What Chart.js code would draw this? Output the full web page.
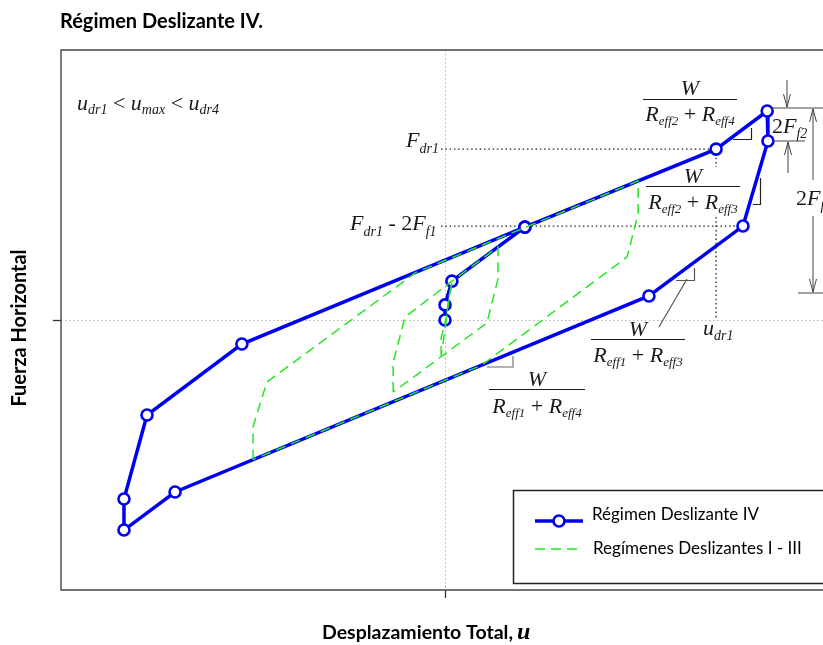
<!DOCTYPE html>
<html><head><meta charset="utf-8">
<script src="https://cdn.jsdelivr.net/npm/chart.js@4.4.1/dist/chart.umd.min.js"></script>
<style>
html,body{margin:0;padding:0;background:#fff;overflow:hidden;width:823px;height:645px}
#wrap{position:absolute;left:0;top:0;width:840px;height:645px}
</style></head>
<body><div id="wrap"><canvas id="c" width="840" height="645"></canvas></div>
<script>
// ---- text ----
const titleText = 'Régimen Deslizante IV.';
const yAxisLabel = 'Fuerza Horizontal';
const xAxisLabel = 'Desplazamiento Total,';
const xAxisSymbol = 'u';
const legendLabels = ['Régimen Deslizante IV', 'Regímenes Deslizantes I - III'];

// ---- data (normalised displacement u, normalised force F) ----
const regimeIV_u = [0.000, 0.000, 0.018, 0.208, 0.706, 0.839, 0.841, 0.776, 0.531, -0.703, -0.836, -0.836, -0.776, -0.529, 0.208];
const regimeIV_F = [0.000, 0.056, 0.144, 0.344, 0.633, 0.774, 0.663, 0.348, 0.089, -0.637, -0.778, -0.663, -0.352, -0.089, 0.344];

const regimeI_u = [-0.010, -0.010, 0.003, 0.018, 0.008, 0.003, -0.010];
const regimeI_F = [-0.133, -0.067, 0.007, 0.141, 0.067, -0.007, -0.133];

const regimeII_u = [-0.135, -0.135, -0.104, 0.018, 0.138, 0.138, 0.109, -0.135];
const regimeII_F = [-0.267, -0.156, 0.011, 0.144, 0.270, 0.152, -0.011, -0.267];

const regimeIII_u = [-0.500, -0.500, -0.464, -0.076, 0.503, 0.503, 0.474, 0.096, -0.500];
const regimeIII_F = [-0.517, -0.396, -0.230, 0.176, 0.515, 0.393, 0.233, -0.167, -0.517];

const axisTicks = [0];

const BLUE = '#0000f0';
const GREEN = '#22e822';
const SERIF = '"Liberation Serif", "DejaVu Serif", serif';
const SANS = 'Lato, "Open Sans", "Noto Sans", sans-serif';

const zip = (u, f) => u.map((v, i) => ({x: v, y: f[i]}));

function fitFont(ctx, text, weight, family, target) {
  ctx.font = `${weight} 20px ${family}`;
  const w = ctx.measureText(text).width;
  return `${weight} ${(20 * target / w).toFixed(2)}px ${family}`;
}

// math run: parts [text, kind] kind: i italic, r roman, s subscript
function mathWidth(ctx, parts, size, sub) {
  let w = 0;
  for (const [t, k] of parts) {
    ctx.font = k === 's' ? `italic ${sub}px ${SERIF}` : (k === 'r' ? `${size}px ${SERIF}` : `italic ${size}px ${SERIF}`);
    w += ctx.measureText(t).width;
  }
  return w;
}
function mathRun(ctx, x, y, parts, size, sub, dy) {
  ctx.textAlign = 'left'; ctx.textBaseline = 'alphabetic';
  for (const [t, k] of parts) {
    ctx.font = k === 's' ? `italic ${sub}px ${SERIF}` : (k === 'r' ? `${size}px ${SERIF}` : `italic ${size}px ${SERIF}`);
    ctx.fillText(t, x, k === 's' ? y + dy : y);
    x += ctx.measureText(t).width;
  }
  return x;
}
function fraction(ctx, cx, yNum, yBar, yDen, den, barW) {
  const size = 22, sub = 13;
  ctx.font = `italic ${size}px ${SERIF}`;
  ctx.textAlign = 'center'; ctx.textBaseline = 'alphabetic';
  ctx.fillText('W', cx, yNum);
  ctx.beginPath(); ctx.moveTo(cx - barW / 2, yBar); ctx.lineTo(cx + barW / 2, yBar);
  ctx.lineWidth = 1.1; ctx.strokeStyle = '#1a1a1a'; ctx.stroke();
  const w = mathWidth(ctx, den, size, sub);
  mathRun(ctx, cx - w / 2, yDen, den, size, sub, 4);
}
function seg(ctx, x1, y1, x2, y2) { ctx.beginPath(); ctx.moveTo(x1, y1); ctx.lineTo(x2, y2); ctx.stroke(); }
function head(ctx, x, y, dir) { // dir +1: pointing down, -1: pointing up
  ctx.beginPath(); ctx.moveTo(x - 3.5, y - dir * 13); ctx.lineTo(x, y); ctx.lineTo(x + 3.5, y - dir * 13); ctx.stroke();
}

const decor = {
  id: 'decor',
  beforeDatasetsDraw(chart) {
    const {ctx, scales: {x: xs, y: ys}} = chart;
    const P = i => [xs.getPixelForValue(regimeIV_u[i]), ys.getPixelForValue(regimeIV_F[i])];
    const x0 = xs.getPixelForValue(0), y0 = ys.getPixelForValue(0);
    const [x5, y5] = P(4), [x8, y8] = P(7);
    ctx.save();
    ctx.strokeStyle = '#222'; ctx.lineWidth = 1.3; ctx.setLineDash([1.5, 2.8]);
    seg(ctx, x0 - 4, y5, x5, y5);
    seg(ctx, x0 - 4, y8, x8, y8);
    seg(ctx, x5, y5, x5, y5 + 18);
    seg(ctx, x5, 217, x5, y0);
    ctx.restore();
  },
  afterDraw(chart) {
    const {ctx, chartArea: a} = chart;
    ctx.save();
    // frame
    ctx.strokeStyle = '#444'; ctx.lineWidth = 1.4; ctx.setLineDash([]);
    ctx.beginPath();
    ctx.moveTo(a.right + 5, a.top); ctx.lineTo(a.left, a.top); ctx.lineTo(a.left, a.bottom); ctx.lineTo(a.right + 5, a.bottom);
    ctx.stroke();

    ctx.fillStyle = '#000';
    // title
    ctx.font = fitFont(ctx, titleText, 'bold', SANS, 203);
    ctx.textAlign = 'left'; ctx.textBaseline = 'alphabetic';
    ctx.fillText(titleText, 60, 28);
    // y label
    ctx.save();
    ctx.translate(20, 328); ctx.rotate(-Math.PI / 2);
    ctx.font = fitFont(ctx, yAxisLabel, 'bold', SANS, 157);
    ctx.textAlign = 'center'; ctx.textBaseline = 'middle';
    ctx.fillText(yAxisLabel, 0, 0);
    ctx.restore();
    // x label
    ctx.font = fitFont(ctx, xAxisLabel, 'bold', SANS, 191);
    ctx.textAlign = 'left'; ctx.textBaseline = 'alphabetic';
    ctx.fillText(xAxisLabel, 322, 639);
    ctx.font = `italic bold 24px ${SERIF}`;
    ctx.fillText(xAxisSymbol, 517, 639);

    // math annotations
    ctx.fillStyle = '#1a1a1a';
    mathRun(ctx, 77, 110, [['u','i'],['dr1','s'],[' < ','r'],['u','i'],['max','s'],[' < ','r'],['u','i'],['dr4','s']], 22, 14, 4);
    mathRun(ctx, 406, 147, [['F','i'],['dr1','s']], 22, 14, 6);
    mathRun(ctx, 350, 230, [['F','i'],['dr1','s'],[' - 2','r'],['F','i'],['f1','s']], 22, 14, 6);
    mathRun(ctx, 703, 335, [['u','i'],['dr1','s']], 22, 14, 5);
    mathRun(ctx, 772, 133, [['2','r'],['F','i'],['f2','s']], 22, 14, 5);
    mathRun(ctx, 796, 205, [['2','r'],['F','i'],['f1','s']], 22, 14, 5);

    fraction(ctx, 690, 95, 99.5, 121, [['R','i'],['eff2','s'],[' + ','r'],['R','i'],['eff4','s']], 94);
    fraction(ctx, 693, 183, 186.5, 209, [['R','i'],['eff2','s'],[' + ','r'],['R','i'],['eff3','s']], 94);
    fraction(ctx, 638, 336, 339.5, 362, [['R','i'],['eff1','s'],[' + ','r'],['R','i'],['eff3','s']], 94);
    fraction(ctx, 537, 386, 389.5, 413, [['R','i'],['eff1','s'],[' + ','r'],['R','i'],['eff4','s']], 96);

    // slope marks
    ctx.lineWidth = 1.2;
    ctx.strokeStyle = '#222';
    ctx.beginPath(); ctx.moveTo(733, 139.5); ctx.lineTo(751.5, 139.5); ctx.lineTo(751.5, 128); ctx.stroke();
    ctx.beginPath(); ctx.moveTo(753, 204.5); ctx.lineTo(760.5, 204.5); ctx.lineTo(760.5, 178); ctx.stroke();
    ctx.strokeStyle = '#555';
    ctx.beginPath(); ctx.moveTo(676, 280.5); ctx.lineTo(694.5, 280.5); ctx.lineTo(694.5, 268); ctx.stroke();
    seg(ctx, 659, 327, 687, 279);
    ctx.strokeStyle = '#9a9a9a'; ctx.lineWidth = 1.6;
    ctx.beginPath(); ctx.moveTo(487, 367); ctx.lineTo(513, 367); ctx.lineTo(513, 356); ctx.stroke();

    // dimension marks
    ctx.strokeStyle = '#444'; ctx.lineWidth = 1;
    seg(ctx, 770, 108, 840, 108);
    seg(ctx, 773, 141, 805, 141);
    seg(ctx, 798, 293, 840, 293);
    seg(ctx, 787, 80, 787, 107); head(ctx, 787, 107, 1);
    seg(ctx, 788, 173, 788, 142); head(ctx, 788, 142, -1);
    seg(ctx, 813, 109, 813, 180); head(ctx, 813, 109, -1);
    seg(ctx, 813, 216, 813, 292); head(ctx, 813, 292, 1);

    // legend
    const ds = chart.data.datasets;
    ctx.fillStyle = '#fff'; ctx.fillRect(513, 490, 330, 94);
    ctx.strokeStyle = '#222'; ctx.lineWidth = 1.5; ctx.strokeRect(513.5, 490.5, 330, 93);
    ctx.strokeStyle = ds[0].borderColor; ctx.lineWidth = ds[0].borderWidth;
    seg(ctx, 535, 521, 583, 521);
    ctx.beginPath(); ctx.arc(559, 521, ds[0].pointRadius, 0, Math.PI * 2);
    ctx.fillStyle = '#fff'; ctx.fill(); ctx.lineWidth = ds[0].pointBorderWidth; ctx.stroke();
    ctx.strokeStyle = ds[1].borderColor; ctx.lineWidth = ds[1].borderWidth; ctx.setLineDash([10, 6]);
    seg(ctx, 535, 549, 577, 549);
    ctx.setLineDash([]);
    ctx.fillStyle = '#000'; ctx.textAlign = 'left'; ctx.textBaseline = 'alphabetic';
    ctx.font = fitFont(ctx, legendLabels[0], 'normal', SANS, 167);
    ctx.fillText(legendLabels[0], 592, 520);
    ctx.font = fitFont(ctx, legendLabels[1], 'normal', SANS, 209);
    ctx.fillText(legendLabels[1], 593, 554);
    ctx.restore();
  }
};

const greenStyle = {showLine: true, borderColor: GREEN, backgroundColor: GREEN, borderWidth: 1.5,
  borderDash: [10, 6], pointRadius: 0, pointHoverRadius: 0, tension: 0, order: 0};

const axisOpts = {
  type: 'linear', min: -1, max: 1,
  afterBuildTicks: s => { s.ticks = axisTicks.map(v => ({value: v})); },
  ticks: {display: false},
  grid: {color: '#b4b4b4', lineWidth: 1, drawTicks: true, tickLength: 8, tickColor: '#333', tickWidth: 1.3},
  border: {display: false, dash: [1.5, 2.5]}
};

new Chart(document.getElementById('c'), {
  type: 'scatter',
  data: {
    datasets: [
      {label: legendLabels[0], data: zip(regimeIV_u, regimeIV_F), showLine: true, borderColor: BLUE,
       backgroundColor: BLUE, borderWidth: 3.5, pointRadius: 5.5, pointHoverRadius: 5.5, pointBorderWidth: 2.6,
       pointBackgroundColor: '#fff', pointBorderColor: BLUE, tension: 0, order: 1},
      Object.assign({label: legendLabels[1], data: zip(regimeIII_u, regimeIII_F)}, greenStyle),
      Object.assign({label: legendLabels[1], data: zip(regimeII_u, regimeII_F)}, greenStyle),
      Object.assign({label: legendLabels[1], data: zip(regimeI_u, regimeI_F)}, greenStyle)
    ]
  },
  options: {
    responsive: false, animation: false, devicePixelRatio: 1, events: [],
    layout: {padding: {left: 53, right: 11, top: 50, bottom: 47}},
    plugins: {legend: {display: false}, tooltip: {enabled: false}, title: {display: false}},
    scales: {x: Object.assign({}, axisOpts), y: Object.assign({}, axisOpts)}
  },
  plugins: [decor]
});
</script>
</body></html>
